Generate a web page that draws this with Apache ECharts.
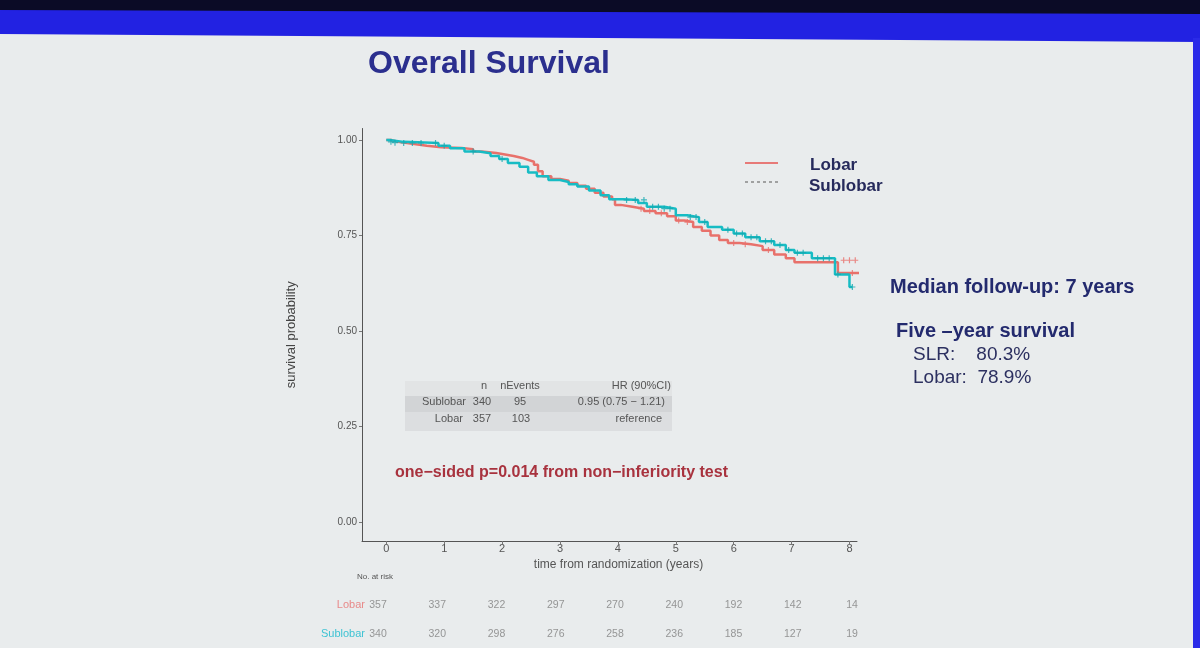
<!DOCTYPE html>
<html><head><meta charset="utf-8">
<script src="https://cdn.jsdelivr.net/npm/echarts@6/dist/echarts.min.js"></script>
<style>html,body{margin:0;padding:0;background:#e9eced}#c{width:1200px;height:648px}</style>
</head><body><div id="c"></div>
<script>
// Kaplan-Meier step points [years, survival]
const lobarCurve = [[0,1.0],[0.08,0.995],[0.2,0.99],[0.45,0.985],[0.7,0.981],[0.95,0.979],[1.3,0.976],[1.5,0.97],[1.65,0.966],[1.9,0.962],[2.05,0.958],[2.2,0.953],[2.35,0.948],[2.45,0.943],[2.55,0.935],[2.62,0.918],[2.7,0.905],[2.85,0.898],[3.0,0.893],[3.15,0.887],[3.3,0.88],[3.45,0.872],[3.6,0.862],[3.75,0.852],[3.9,0.845],[3.95,0.83],[4.05,0.825],[4.25,0.82],[4.45,0.814],[4.65,0.808],[4.85,0.8],[5.0,0.789],[5.15,0.785],[5.3,0.772],[5.45,0.762],[5.6,0.75],[5.75,0.738],[5.9,0.73],[6.1,0.727],[6.3,0.722],[6.5,0.712],[6.7,0.7],[6.9,0.69],[7.05,0.68],[7.8,0.652],[8.2,0.652]];
const sublobarCurve = [[0,1.0],[0.05,0.995],[0.3,0.992],[0.9,0.985],[1.1,0.978],[1.35,0.97],[1.6,0.965],[1.8,0.958],[1.95,0.95],[2.1,0.94],[2.3,0.93],[2.45,0.915],[2.6,0.905],[2.8,0.895],[3.0,0.89],[3.15,0.884],[3.3,0.878],[3.5,0.868],[3.7,0.855],[3.85,0.845],[4.1,0.843],[4.35,0.835],[4.5,0.825],[4.8,0.82],[5.0,0.803],[5.2,0.798],[5.4,0.785],[5.55,0.772],[5.8,0.765],[6.0,0.755],[6.2,0.745],[6.45,0.735],[6.7,0.725],[6.9,0.712],[7.05,0.705],[7.35,0.69],[7.75,0.648],[8.0,0.615],[8.05,0.615]];
// censor marks [years, survival]
const lobarCensor = [[4.4,0.82],[4.55,0.814],[4.75,0.808],[5.05,0.789],[5.2,0.785],[6.0,0.73],[6.2,0.727],[6.6,0.712],[7.9,0.685],[8.0,0.685],[8.1,0.685],[8.05,0.652],[8.15,0.652],[8.2,0.652]];
const sublobarCensor = [[0.08,0.995],[0.15,0.993],[0.3,0.992],[0.45,0.992],[0.6,0.992],[0.85,0.992],[1.0,0.985],[1.5,0.97],[2.0,0.95],[4.15,0.843],[4.3,0.843],[4.45,0.843],[4.6,0.825],[4.7,0.825],[4.8,0.82],[4.9,0.82],[5.25,0.798],[5.35,0.798],[5.5,0.785],[5.9,0.765],[6.05,0.755],[6.15,0.755],[6.3,0.745],[6.4,0.745],[6.55,0.735],[6.65,0.735],[6.8,0.725],[6.95,0.712],[7.1,0.705],[7.2,0.705],[7.45,0.69],[7.55,0.69],[7.65,0.69],[7.8,0.648],[8.05,0.615]];
// axis ticks
const xTicks = [0,1,2,3,4,5,6,7,8];
const yTicks = [0,0.25,0.5,0.75,1];
// numbers at risk
const riskTimes = [0,1,2,3,4,5,6,7,8];
const riskLobar = [357,337,322,297,270,240,192,142,14];
const riskSublobar = [340,320,298,276,258,236,185,127,19];
const groups = ['Lobar','Sublobar'];

const F = 'Liberation Sans, Arial, sans-serif';
const RED = '#e8716b', TEAL = '#17bcc4';
const plus = 'path://M4,0H6V4H10V6H6V10H4V6H0V4H4Z';
const T = (x, y, text, font, fill, align) => ({type: 'text', z: 2, x: x, y: y,
  style: {text: text, font: font, fill: fill, align: align || 'left', verticalAlign: 'middle'}});

const chart = echarts.init(document.getElementById('c'));
chart.setOption({
  animation: false,
  backgroundColor: '#e9eced',
  textStyle: {fontFamily: F},
  title: {text: 'Overall Survival', left: 363, top: 43,
    textStyle: {fontFamily: F, fontWeight: 'bold', fontSize: 32, color: '#2b2f8e'}},
  grid: [{left: 362, top: 128.5, width: 495, height: 412.5},
         {left: 378, top: 591, width: 474, height: 62}],
  xAxis: [{type: 'value', gridIndex: 0, min: -0.42, max: 8.13,
      axisLine: {show: true, onZero: false, lineStyle: {color: '#555', width: 1}},
      axisTick: {show: true, customValues: xTicks, length: 3, lineStyle: {color: '#777'}},
      axisLabel: {customValues: xTicks, margin: 2, color: '#555', fontSize: 11, fontFamily: F},
      splitLine: {show: false},
      name: 'time from randomization (years)', nameLocation: 'middle', nameGap: 16,
      nameTextStyle: {color: '#555', fontSize: 12, fontFamily: F, padding: [0, 0, 0, 18]}},
    {type: 'value', gridIndex: 1, min: 0, max: 8, show: false}],
  yAxis: [{type: 'value', gridIndex: 0, min: -0.05, max: 1.03,
      axisLine: {show: true, onZero: false, lineStyle: {color: '#555', width: 1}},
      axisTick: {show: true, customValues: yTicks, length: 3, lineStyle: {color: '#777'}},
      axisLabel: {customValues: yTicks, margin: 5, color: '#555', fontSize: 10, fontFamily: F,
        formatter: v => v.toFixed(2)},
      splitLine: {show: false},
      name: 'survival probability', nameLocation: 'middle', nameGap: 64,
      nameTextStyle: {color: '#444', fontSize: 13, fontFamily: F}},
    {type: 'category', gridIndex: 1, data: groups, inverse: true,
      axisLine: {show: false}, axisTick: {show: false},
      axisLabel: {margin: 13, fontSize: 11, fontFamily: F,
        formatter: v => '{' + (v === 'Lobar' ? 'a' : 'b') + '|' + v + '}',
        rich: {a: {color: '#e88a8a', fontSize: 11, fontFamily: F}, b: {color: '#3fc3d3', fontSize: 11, fontFamily: F}}}}],
  series: [
    {name: 'Lobar', type: 'line', step: 'end', data: lobarCurve, showSymbol: false, symbol: 'none',
      lineStyle: {color: RED, width: 2.5}, itemStyle: {color: RED}, z: 3},
    {name: 'Sublobar', type: 'line', step: 'end', data: sublobarCurve, showSymbol: false, symbol: 'none',
      lineStyle: {color: TEAL, width: 2.5}, itemStyle: {color: TEAL}, z: 4},
    {type: 'scatter', data: lobarCensor, symbol: plus, symbolSize: 6, itemStyle: {color: RED}, z: 5},
    {type: 'scatter', data: sublobarCensor, symbol: plus, symbolSize: 6, itemStyle: {color: '#14a9b0'}, z: 6},
    {type: 'scatter', xAxisIndex: 1, yAxisIndex: 1, symbolSize: 0,
      data: riskTimes.map((t, i) => [t, 'Lobar', riskLobar[i]]),
      label: {show: true, position: 'inside', formatter: p => p.data[2], color: '#808080', fontSize: 10.5, fontFamily: F}},
    {type: 'scatter', xAxisIndex: 1, yAxisIndex: 1, symbolSize: 0,
      data: riskTimes.map((t, i) => [t, 'Sublobar', riskSublobar[i]]),
      label: {show: true, position: 'inside', formatter: p => p.data[2], color: '#808080', fontSize: 10.5, fontFamily: F}}
  ],
  graphic: [
    {type: 'polygon', z: -100, shape: {points: [[0,0],[1200,0],[1200,42],[0,34]]}, style: {fill: '#2222e2'}},
    {type: 'polygon', z: -99, shape: {points: [[0,0],[1200,0],[1200,14],[0,10]]}, style: {fill: '#0b0b26'}},
    {type: 'rect', z: -98, shape: {x: 1193, y: 38, width: 7, height: 610}, style: {fill: '#2a2ae8'}},
    // legend
    {type: 'line', shape: {x1: 745, y1: 163, x2: 778, y2: 163}, style: {stroke: '#e77a78', lineWidth: 2}},
    {type: 'line', shape: {x1: 745, y1: 182, x2: 780, y2: 182}, style: {stroke: '#888', lineWidth: 1.5, lineDash: [3, 3]}},
    T(810, 165, 'Lobar', 'bold 17px ' + F, '#262a5c'),
    T(809, 186, 'Sublobar', 'bold 17px ' + F, '#262a5c'),
    // right notes
    T(890, 287, 'Median follow-up: 7 years', 'bold 20px ' + F, '#232a6e'),
    T(896, 331, 'Five \u2013year survival', 'bold 20px ' + F, '#232a6e'),
    T(913, 355, 'SLR:    80.3%', '19px ' + F, '#2c3060'),
    T(913, 378, 'Lobar:  78.9%', '19px ' + F, '#2c3060'),
    // HR table
    {type: 'rect', z: 1, shape: {x: 405, y: 381, width: 267, height: 50}, style: {fill: '#dcdee0'}},
    {type: 'rect', z: 1, shape: {x: 405, y: 381, width: 267, height: 15}, style: {fill: '#e2e4e5'}},
    {type: 'rect', z: 1, shape: {x: 405, y: 396, width: 267, height: 16}, style: {fill: '#d2d4d6'}},
    T(484, 386, 'n', '11px ' + F, '#555', 'center'),
    T(520, 386, 'nEvents', '11px ' + F, '#555', 'center'),
    T(671, 386, 'HR (90%CI)', '11px ' + F, '#555', 'right'),
    T(466, 402, 'Sublobar', '11px ' + F, '#555', 'right'),
    T(482, 402, '340', '11px ' + F, '#555', 'center'),
    T(520, 402, '95', '11px ' + F, '#555', 'center'),
    T(665, 402, '0.95 (0.75 \u2212 1.21)', '11px ' + F, '#555', 'right'),
    T(463, 419, 'Lobar', '11px ' + F, '#555', 'right'),
    T(482, 419, '357', '11px ' + F, '#555', 'center'),
    T(521, 419, '103', '11px ' + F, '#555', 'center'),
    T(662, 419, 'reference', '11px ' + F, '#555', 'right'),
    // p-value
    T(395, 473, 'one\u2212sided p=0.014 from non\u2212inferiority test', 'bold 16px ' + F, '#a8323e'),
    // at risk header
    T(357, 577, 'No. at risk', '8px ' + F, '#555')
  ]
});
</script></body></html>
